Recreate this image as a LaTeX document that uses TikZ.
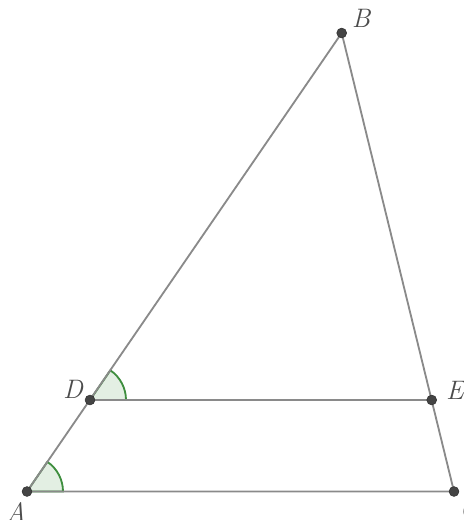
\documentclass[tikz,border=0pt]{standalone}
\usetikzlibrary{calc}
\definecolor{segcol}{HTML}{8A8A8A}
\definecolor{angcol}{HTML}{3E8E3E}
\definecolor{angfill}{HTML}{E3EFE3}
\definecolor{ptcol}{HTML}{444444}
\begin{document}
\begin{tikzpicture}[x=0.025cm,y=-0.025cm,
  seg/.style={draw=segcol,line width=1.3pt},
  angmark/.style={draw=angcol,fill=angfill,line width=1.3pt},
  pt/.style={circle,fill=ptcol,draw=ptcol!70!black,inner sep=0pt,minimum size=7pt},
  lbl/.style={font=\fontsize{19}{22}\selectfont\itshape,text=black!70}]
\useasboundingbox (0,0) rectangle (464,520);
\coordinate (A) at (27,491.5);
\coordinate (C) at (454,491.5);
\coordinate (B) at (341.7,33);
\coordinate (D) at (90,400);
\coordinate (E) at (431.7,400);
% angle marks
\path[angmark] (A) -- ++(0:36) arc[start angle=0,end angle=-55.5,radius=36] -- cycle;
\path[angmark] (D) -- ++(0:36) arc[start angle=0,end angle=-55.5,radius=36] -- cycle;
\draw[seg] (A) -- (B) -- (C) -- cycle;
\draw[seg] (D) -- (E);
\node[pt] (pA) at (A) {};
\node[pt] (pB) at (B) {};
\node[pt] (pC) at (C) {};
\node[pt] (pD) at (D) {};
\node[pt] (pE) at (E) {};
\node[lbl] (lA) at (16,512) {A};
\node[lbl] (lB) at (361,18) {B};
\node[lbl] (lC) at (469,509) {C};
\node[lbl] (lD) at (73,389) {D};
\node[lbl] (lE) at (455,390) {E};
\end{tikzpicture}
\end{document}
